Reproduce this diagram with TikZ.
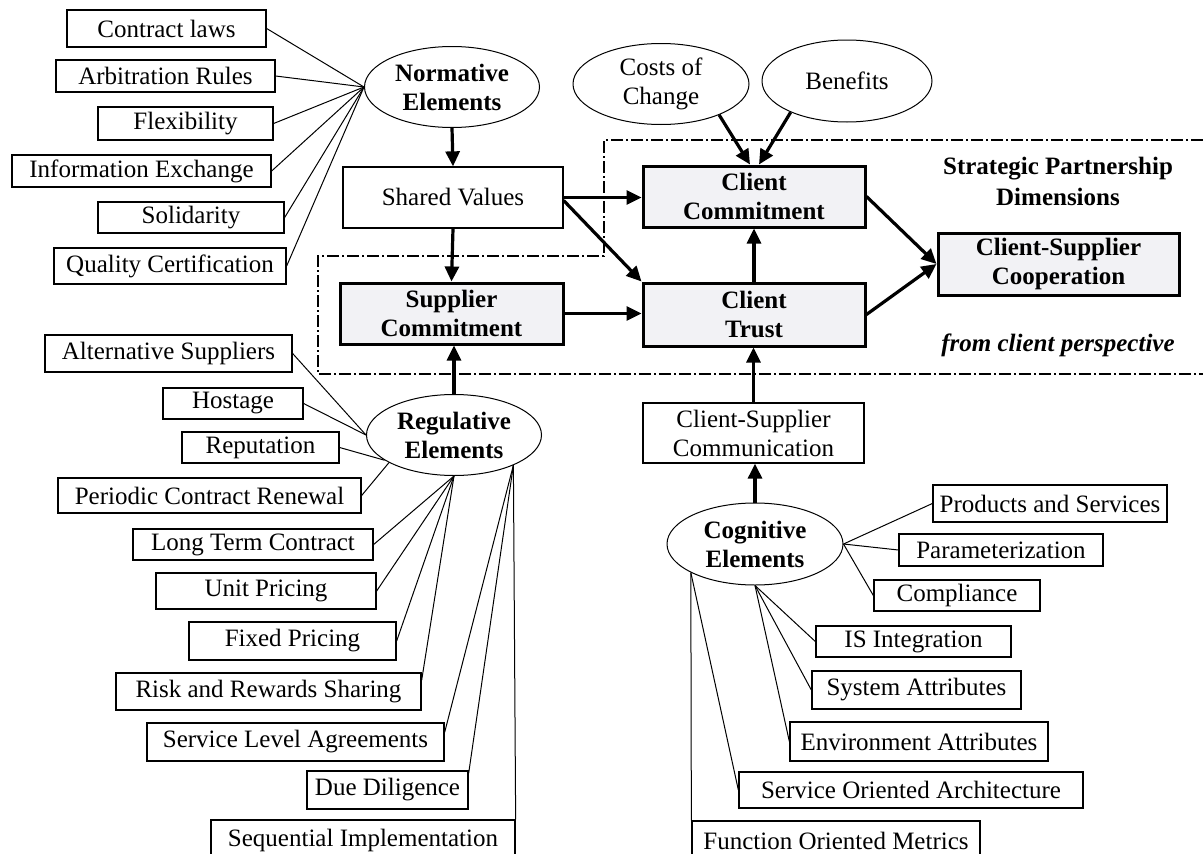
\documentclass[tikz,border=0pt]{standalone}
\usepackage{fontspec}
\setmainfont{Liberation Serif}
\usetikzlibrary{shapes.geometric,arrows.meta}
\definecolor{boxgray}{RGB}{242,242,245}
\begin{document}
\begin{tikzpicture}[x=1pt,y=-1pt,
  base/.style={font=\fontsize{25}{29}\selectfont, inner sep=0pt, align=center},
  box/.style={base, draw, line width=1.3pt, rectangle},
  bbox/.style={base, draw, line width=3pt, fill=boxgray, font=\fontsize{25}{29}\selectfont\bfseries},
  ell/.style={base, draw, ellipse, line width=1pt},
  bell/.style={ell, font=\fontsize{25}{29}\selectfont\bfseries},
  lbl/.style={base, font=\fontsize{25}{31}\selectfont\bfseries},
  link/.style={line width=1pt},
  arr/.style={line width=3.2pt, -{Triangle[length=15pt,width=14pt]}},
  bound/.style={line width=1.3pt, dash pattern=on 12pt off 3pt on 2pt off 3pt}
]
\clip (0,0) rectangle (1203,854);
\fill[white] (0,0) rectangle (1203,854);

% boundary of strategic partnership dimensions
\draw[bound] (1203,140) -- (604,140) -- (604,256) -- (318,256) -- (318,374) -- (1203,374);

% normative side
\node[box, minimum width=199pt, minimum height=37pt] (cl) at (166.5,28.5) {Contract laws};
\node[box, minimum width=219pt, minimum height=32pt] (ar) at (165.5,76) {Arbitration Rules};
\node[box, minimum width=175pt, minimum height=33pt] (fl) at (185.5,123.5) {Flexibility};
\node[box, minimum width=259pt, minimum height=32pt] (ie) at (141.5,171) {Information Exchange};
\node[box, minimum width=186pt, minimum height=31pt] (so) at (191,217.5) {Solidarity};
\node[box, minimum width=232pt, minimum height=36pt] (qc) at (170,266) {Quality Certification};

\node[bell, minimum width=175pt, minimum height=81pt] (ne) at (452,87) {Normative\\Elements};
\node[ell, minimum width=176pt, minimum height=81pt] (coc) at (661,84) {Costs of\\Change};
\node[ell, minimum width=170pt, minimum height=82pt] (ben) at (847,81) {Benefits};

% core
\node[box, minimum width=220pt, minimum height=61pt] (sv) at (453,197.5) {Shared Values};
\node[bbox, minimum width=222pt, minimum height=61pt] (cc) at (754,196.5) {Client\\Commitment};
\node[bbox, minimum width=222pt, minimum height=63pt] (ct) at (754,314.5) {Client\\Trust};
\node[bbox, minimum width=223pt, minimum height=61pt] (sc) at (451.5,313.5) {Supplier\\Commitment};
\node[bbox, minimum width=241pt, minimum height=62pt] (csc) at (1058.5,264) {Client-Supplier\\Cooperation};
\node[lbl] (spd) at (1058,181) {Strategic Partnership\\Dimensions};
\node[lbl, font=\fontsize{25}{31}\selectfont\bfseries\itshape] (fcp) at (1058,345) {from client perspective};

% regulative side
\node[bell, minimum width=175pt, minimum height=81pt] (re) at (454,435) {Regulative\\Elements};
\node[box, minimum width=247pt, minimum height=37pt] (as) at (168.5,353.5) {Alternative Suppliers};
\node[box, minimum width=140pt, minimum height=31pt] (ho) at (233,403.5) {Hostage};
\node[box, minimum width=157pt, minimum height=31pt] (rp) at (260.5,447.5) {Reputation};
\node[box, minimum width=303pt, minimum height=35pt] (pcr) at (209.5,495.5) {Periodic Contract Renewal};
\node[box, minimum width=240pt, minimum height=31pt] (ltc) at (253,544.5) {Long Term Contract};
\node[box, minimum width=220pt, minimum height=36pt] (up) at (266,591) {Unit Pricing};
\node[box, minimum width=207pt, minimum height=38pt] (fp) at (292.5,641) {Fixed Pricing};
\node[box, minimum width=305pt, minimum height=37pt] (rrs) at (268.5,691.5) {Risk and Rewards Sharing};
\node[box, minimum width=297pt, minimum height=38pt] (sla) at (295.5,742) {Service Level Agreements};
\node[box, minimum width=161pt, minimum height=38pt] (dd) at (387.5,790) {Due Diligence};
\node[box, minimum width=304pt, minimum height=40pt] (seq) at (363,840) {Sequential Implementation};

% cognitive side
\node[box, minimum width=221pt, minimum height=60pt] (com) at (753.5,433) {Client-Supplier\\Communication};
\node[bell, minimum width=176pt, minimum height=82pt] (cog) at (755,544) {Cognitive\\Elements};
\node[box, minimum width=234pt, minimum height=37pt] (ps) at (1050,503.5) {Products and Services};
\node[box, minimum width=204pt, minimum height=32pt] (pa) at (1001,550) {Parameterization};
\node[box, minimum width=166pt, minimum height=31pt] (cp) at (957,595.5) {Compliance};
\node[box, minimum width=195pt, minimum height=31pt] (isi) at (913.5,641.5) {IS Integration};
\node[box, minimum width=209pt, minimum height=38pt] (sa) at (916.5,690) {System Attributes};
\node[box, minimum width=258pt, minimum height=39pt] (ea) at (919,741.5) {Environment Attributes};
\node[box, minimum width=344pt, minimum height=36pt] (soa) at (911,790) {Service Oriented Architecture};
\node[box, minimum width=288pt, minimum height=40pt] (fom) at (836,841) {Function Oriented Metrics};

% thin links: normative
\foreach \n in {cl,ar,fl,ie,so,qc} \draw[link] (\n.east) -- (ne.west);
% thin links: regulative
\draw[link] (as.east) -- (re.west);
\draw[link] (ho.east) -- (re.west);
\draw[link] (rp.east) -- (re.200);
\draw[link] (pcr.east) -- (re.203);
\draw[link] (ltc.east) -- (re.south);
\draw[link] (up.east) -- (re.south);
\draw[link] (fp.east) -- (re.south);
\draw[link] ([yshift=-8pt]rrs.north east) -- (re.south);
\draw[link] ([yshift=-10pt]sla.north east) -- (re.-27);
\draw[link] ([yshift=-3pt]dd.north east) -- (re.-27);
\draw[link] (seq.north east) -- (re.-27);
% thin links: cognitive
\draw[link] (ps.west) -- (cog.east);
\draw[link] (pa.west) -- (cog.east);
\draw[link] (cp.west) -- (cog.east);
\draw[link] (isi.west) -- (cog.south);
\draw[link] (sa.west) -- (cog.south);
\draw[link] (ea.west) -- (cog.south);
\draw[link] (soa.west) -- (cog.204);
\draw[link] (fom.north west) -- (cog.204);

% thick arrows
\draw[arr] (ne.south) -- (sv.north);
\draw[arr] (sv.south) -- (sc.north);
\draw[arr] (sv.east) -- (sv.east -| cc.west);
\draw[arr] ([yshift=-3pt]sv.east) -- (ct.north west);
\draw[arr] (sc.east) -- (sc.east -| ct.west);
\draw[arr] (ct.north) -- (cc.south);
\draw[arr] (cc.east) -- (csc.west);
\draw[arr] (ct.east) -- (csc.west);
\draw[arr] (re.north) -- (re.north |- sc.south);
\draw[arr] (com.north) -- (com.north |- ct.south);
\draw[arr] (cog.north) -- (cog.north |- com.south);
\draw[arr] (coc.-28) -- ([xshift=-4pt]cc.north);
\draw[arr] (ben.209) -- ([xshift=5pt]cc.north);
\end{tikzpicture}
\end{document}
